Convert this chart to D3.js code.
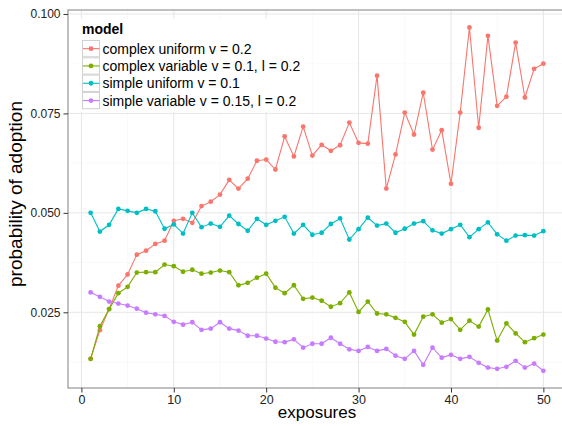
<!DOCTYPE html>
<html>
<head>
<meta charset="utf-8">
<script src="https://cdn.jsdelivr.net/npm/d3@7"></script>
<style>
  html, body { margin: 0; padding: 0; background: #fff; }
  svg { display: block; font-family: "Liberation Sans", Arial, Helvetica, sans-serif; }
</style>
</head>
<body>
<svg id="chart" width="562" height="426"></svg>
<script>
const exposures = d3.range(1, 51);
const seriesNames = [
  "complex uniform v = 0.2",
  "complex variable v = 0.1, l = 0.2",
  "simple uniform v = 0.1",
  "simple variable v = 0.15, l = 0.2"
];
const seriesColors = ["#F8766D", "#7CAE00", "#00BFC4", "#C77CFF"];

const complexUniform = [
  0.0133, 0.0205, 0.0258, 0.0317, 0.0345, 0.0395, 0.0405, 0.0422, 0.0430, 0.0480,
  0.0485, 0.0475, 0.0517, 0.0528, 0.0546, 0.0583, 0.0561, 0.0586, 0.0631, 0.0634,
  0.0609, 0.0692, 0.0642, 0.0717, 0.0644, 0.0671, 0.0656, 0.0670, 0.0727, 0.0676,
  0.0674, 0.0845, 0.0561, 0.0647, 0.0752, 0.0697, 0.0802, 0.0659, 0.0708, 0.0573,
  0.0752, 0.0966, 0.0714, 0.0945, 0.0769, 0.0792, 0.0928, 0.0790, 0.0862, 0.0875
];
const complexVariable = [
  0.0133, 0.0215, 0.0258, 0.0298, 0.0314, 0.0350, 0.0351, 0.0351, 0.0370, 0.0366,
  0.0352, 0.0357, 0.0347, 0.0350, 0.0355, 0.0351, 0.0318, 0.0324, 0.0337, 0.0347,
  0.0312, 0.0298, 0.0318, 0.0284, 0.0287, 0.0279, 0.0264, 0.0273, 0.0300, 0.0251,
  0.0277, 0.0247, 0.0245, 0.0236, 0.0226, 0.0194, 0.0239, 0.0245, 0.0224, 0.0233,
  0.0206, 0.0229, 0.0214, 0.0257, 0.0179, 0.0222, 0.0197, 0.0175, 0.0185, 0.0194
];
const simpleUniform = [
  0.0500, 0.0453, 0.0470, 0.0510, 0.0505, 0.0500, 0.0510, 0.0504, 0.0460, 0.0471,
  0.0448, 0.0500, 0.0464, 0.0473, 0.0465, 0.0493, 0.0472, 0.0455, 0.0485, 0.0470,
  0.0480, 0.0490, 0.0448, 0.0470, 0.0445, 0.0450, 0.0472, 0.0486, 0.0433, 0.0459,
  0.0488, 0.0468, 0.0473, 0.0450, 0.0460, 0.0473, 0.0479, 0.0456, 0.0448, 0.0459,
  0.0470, 0.0439, 0.0459, 0.0476, 0.0446, 0.0430, 0.0443, 0.0444, 0.0443, 0.0454
];
const simpleVariable = [
  0.0300, 0.0289, 0.0277, 0.0272, 0.0267, 0.0259, 0.0249, 0.0245, 0.0241, 0.0226,
  0.0219, 0.0225, 0.0206, 0.0209, 0.0225, 0.0209, 0.0204, 0.0191, 0.0191, 0.0184,
  0.0176, 0.0175, 0.0182, 0.0161, 0.0171, 0.0171, 0.0186, 0.0171, 0.0157, 0.0153,
  0.0163, 0.0153, 0.0158, 0.0141, 0.0133, 0.0153, 0.0118, 0.0161, 0.0136, 0.0143,
  0.0133, 0.0138, 0.0123, 0.0111, 0.0108, 0.0113, 0.0128, 0.0111, 0.0121, 0.0103
];
const seriesValues = [complexUniform, complexVariable, simpleUniform, simpleVariable];

const xTicks = [0, 10, 20, 30, 40, 50];
const xMinorTicks = [5, 15, 25, 35, 45];
const yTicks = [0.025, 0.050, 0.075, 0.100];
const yMinorTicks = [0.0125, 0.0375, 0.0625, 0.0875];
const yTickLabels = ["0.025", "0.050", "0.075", "0.100"];

const svg = d3.select("#chart");
const panel = { left: 68, top: 10, right: 566, bottom: 388 };

const x = d3.scaleLinear().domain([-1.45, 52.45]).range([panel.left, panel.right]);
const y = d3.scaleLinear().domain([0.00597, 0.101]).range([panel.bottom, panel.top]);

// background
svg.append("rect").attr("x", panel.left).attr("y", panel.top)
  .attr("width", panel.right - panel.left).attr("height", panel.bottom - panel.top)
  .attr("fill", "#fff");

const grid = svg.append("g");
grid.selectAll(".xmin").data(xMinorTicks).join("line")
  .attr("x1", d => x(d)).attr("x2", d => x(d)).attr("y1", panel.top).attr("y2", panel.bottom)
  .attr("stroke", "#f7f7f7").attr("stroke-width", 0.8);
grid.selectAll(".ymin").data(yMinorTicks).join("line")
  .attr("y1", d => y(d)).attr("y2", d => y(d)).attr("x1", panel.left).attr("x2", panel.right)
  .attr("stroke", "#f7f7f7").attr("stroke-width", 0.8);
grid.selectAll(".xmaj").data(xTicks).join("line")
  .attr("x1", d => x(d)).attr("x2", d => x(d)).attr("y1", panel.top).attr("y2", panel.bottom)
  .attr("stroke", "#e6e6e6").attr("stroke-width", 1);
grid.selectAll(".ymaj").data(yTicks).join("line")
  .attr("y1", d => y(d)).attr("y2", d => y(d)).attr("x1", panel.left).attr("x2", panel.right)
  .attr("stroke", "#e6e6e6").attr("stroke-width", 1);

// series
const line = d3.line().x((d, i) => x(exposures[i])).y(d => y(d));
seriesValues.forEach((vals, si) => {
  const g = svg.append("g");
  g.append("path").datum(vals).attr("d", line)
    .attr("fill", "none").attr("stroke", seriesColors[si]).attr("stroke-width", 1.1);
  g.selectAll("circle").data(vals).join("circle")
    .attr("cx", (d, i) => x(exposures[i])).attr("cy", d => y(d)).attr("r", 2.4)
    .attr("fill", seriesColors[si]);
});

// panel border
svg.append("rect").attr("x", panel.left).attr("y", panel.top)
  .attr("width", panel.right - panel.left).attr("height", panel.bottom - panel.top)
  .attr("fill", "none").attr("stroke", "#8c8c8c").attr("stroke-width", 1.1);

// axes
const xAxis = d3.axisBottom(x).tickValues(xTicks).tickSize(4.5).tickPadding(3).tickFormat(d3.format("d"));
const gx = svg.append("g").attr("transform", `translate(0,${panel.bottom})`).call(xAxis);
gx.select(".domain").remove();
gx.selectAll(".tick line").attr("stroke", "#333");
gx.selectAll(".tick text").attr("fill", "#222").attr("font-size", "12.5px")
  .attr("font-family", "Liberation Sans, Arial, sans-serif");

const yAxis = d3.axisLeft(y).tickValues(yTicks).tickSize(4.5).tickPadding(3)
  .tickFormat((d, i) => yTickLabels[i]);
const gy = svg.append("g").attr("transform", `translate(${panel.left},0)`).call(yAxis);
gy.select(".domain").remove();
gy.selectAll(".tick line").attr("stroke", "#333");
gy.selectAll(".tick text").attr("fill", "#222").attr("font-size", "12px")
  .attr("font-family", "Liberation Sans, Arial, sans-serif");

// axis titles
svg.append("text").attr("x", (panel.left + panel.right) / 2).attr("y", 418)
  .attr("text-anchor", "middle").attr("font-size", "17px").attr("fill", "#000")
  .text("exposures");
svg.append("text").attr("transform", `translate(22,194) rotate(-90)`)
  .attr("text-anchor", "middle").attr("font-size", "19px").attr("fill", "#000")
  .text("probability of adoption");

// legend
const lg = svg.append("g");
lg.append("rect").attr("x", 77).attr("y", 19).attr("width", 229).attr("height", 93).attr("fill", "#fff");
lg.append("text").attr("x", 82).attr("y", 34).attr("font-size", "14px").attr("font-weight", "bold")
  .attr("fill", "#000").text("model");
const rowH = 17.3;
seriesNames.forEach((name, i) => {
  const top = 40 + i * rowH;
  const row = lg.append("g");
  row.append("rect").attr("x", 82.5).attr("y", top + 0.5).attr("width", 17).attr("height", rowH - 1)
    .attr("fill", "#fff").attr("stroke", "#d0d0d0").attr("stroke-width", 1);
  row.append("line").attr("x1", 83).attr("x2", 99.5).attr("y1", top + rowH / 2).attr("y2", top + rowH / 2)
    .attr("stroke", seriesColors[i]).attr("stroke-width", 1.1);
  row.append("circle").attr("cx", 91).attr("cy", top + rowH / 2).attr("r", 2.4).attr("fill", seriesColors[i]);
  row.append("text").attr("x", 102.5).attr("y", top + rowH / 2 + 5).attr("font-size", "14px")
    .attr("fill", "#000").text(name);
});
</script>
</body>
</html>
